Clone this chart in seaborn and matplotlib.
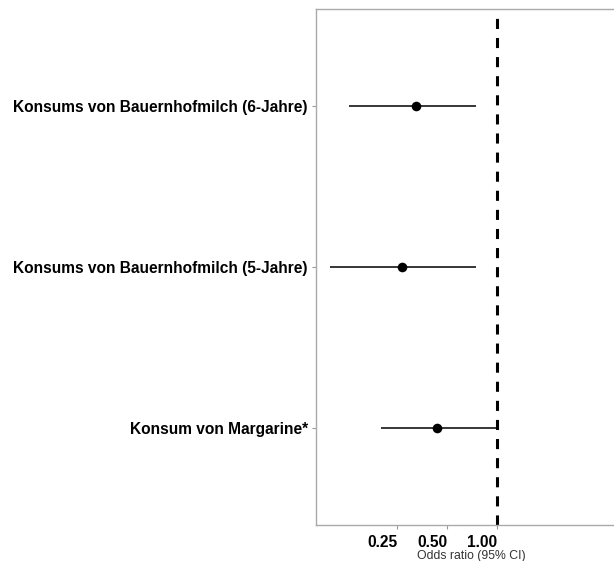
import numpy as np
import pandas as pd
import matplotlib
matplotlib.use("Agg")
import matplotlib.pyplot as plt
import seaborn as sns

# Odds ratios with 95% confidence intervals
labels = [
    "Konsums von Bauernhofmilch (6-Jahre)",
    "Konsums von Bauernhofmilch (5-Jahre)",
    "Konsum von Margarine*",
]
odds_ratio = [0.325, 0.268, 0.435]
ci_lower = [0.128, 0.099, 0.200]
ci_upper = [0.747, 0.747, 1.000]
x_ticks = [0.25, 0.50, 1.00]
x_tick_labels = ["0.25", "0.50", "1.00"]

df = pd.DataFrame({"label": labels, "or": odds_ratio,
                   "lo": ci_lower, "hi": ci_upper})

sns.set_theme(style="white")
plt.rcParams["font.family"] = ["Liberation Sans", "DejaVu Sans"]

fig = plt.figure(figsize=(6.14, 5.61), dpi=100)
ax = fig.add_axes([316 / 614, 1 - 525 / 561, 1 - 316 / 614 + 0.02, (525 - 9) / 561])

ypos = np.arange(len(labels))
ax.hlines(ypos, df["lo"], df["hi"], color="black", lw=1.1, zorder=2)
sns.scatterplot(data=df, x="or", y=ypos, color="black", s=48,
                edgecolor="black", linewidth=0, ax=ax, zorder=3, legend=False)
ax.axvline(1.0, color="black", lw=2.2, linestyle=(0, (3.3, 2.95)), zorder=1)

ax.set_xscale("log", base=2)
ax.set_xlim(2 ** ((316 - 497) / 50), 2 ** ((626 - 497) / 50))
ax.set_ylim(len(labels) - 0.4, -0.6)

ax.set_yticks(ypos)
ax.set_yticklabels(labels, fontsize=11.2, fontweight="bold", color="black")
ax.set_xticks(x_ticks)
ax.set_xticklabels(x_tick_labels, fontsize=11.2, fontweight="bold",
                   color="black", ha="right")
ax.xaxis.set_minor_locator(matplotlib.ticker.NullLocator())
ax.set_xlabel("Odds ratio (95% CI)", fontsize=8.8, color="#333333", labelpad=0)

ax.set_ylabel("")

ax.tick_params(axis="both", which="major", length=3, width=0.8,
               color="#999999")
ax.tick_params(axis="y", left=True, pad=3)
ax.tick_params(axis="x", bottom=True, pad=4)
for side in ["left", "top", "bottom"]:
    ax.spines[side].set_color("#aaaaaa")
    ax.spines[side].set_linewidth(1.0)
ax.spines["right"].set_visible(False)

fig.savefig("out.png", dpi=100)
